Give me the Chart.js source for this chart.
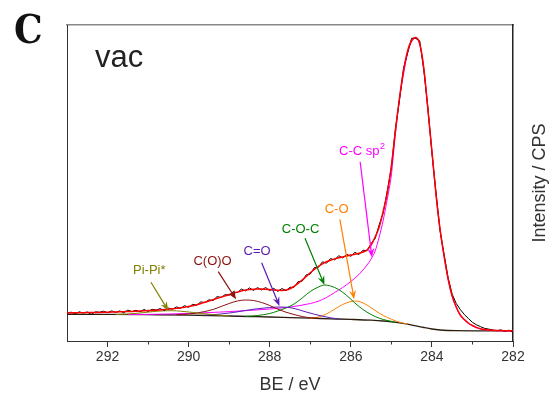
<!DOCTYPE html>
<html>
<head>
<meta charset="utf-8">
<script src="https://cdn.jsdelivr.net/npm/chart.js@4/dist/chart.umd.min.js"></script>
<style>
  html, body { margin: 0; padding: 0; background: #fff; }
  canvas { display: block; }
</style>
</head>
<body>
<canvas id="xps" width="549" height="396"></canvas>
<script>
// binding energy grid of the measured C1s spectrum (eV)
const energy = [
  293.0, 292.9, 292.8, 292.7, 292.6, 292.5, 292.4, 292.3, 292.2, 292.1,
  292.0, 291.9, 291.8, 291.7, 291.6, 291.5, 291.4, 291.3, 291.2, 291.1,
  291.0, 290.9, 290.8, 290.7, 290.6, 290.5, 290.4, 290.3, 290.2, 290.1,
  290.0, 289.9, 289.8, 289.7, 289.6, 289.5, 289.4, 289.3, 289.2, 289.1,
  289.0, 288.9, 288.8, 288.7, 288.6, 288.5, 288.4, 288.3, 288.2, 288.1,
  288.0, 287.9, 287.8, 287.7, 287.6, 287.5, 287.4, 287.3, 287.2, 287.1,
  287.0, 286.9, 286.8, 286.7, 286.6, 286.5, 286.4, 286.3, 286.2, 286.1,
  286.0, 285.9, 285.8, 285.7, 285.6, 285.5, 285.4, 285.3, 285.2, 285.1,
  285.0, 284.9, 284.8, 284.7, 284.6, 284.5, 284.4, 284.3, 284.2, 284.1,
  284.0, 283.9, 283.8, 283.7, 283.6, 283.5, 283.4, 283.3, 283.2, 283.1,
  283.0, 282.9, 282.8, 282.7, 282.6, 282.5, 282.4, 282.3, 282.2, 282.1,
  282.0
];

// measured intensity (arb. units)
const measured = [
  27.4, 28.9, 27.0, 29.2, 28.0, 29.0, 26.6, 29.2, 28.8, 29.8,
  28.3, 30.1, 28.6, 30.1, 28.2, 30.9, 29.4, 30.7, 29.2, 31.5,
  29.7, 31.6, 31.0, 32.4, 30.5, 32.9, 31.8, 34.1, 32.6, 35.3,
  33.7, 36.7, 35.8, 39.1, 38.4, 41.2, 40.4, 44.4, 43.5, 46.4,
  45.8, 49.3, 48.3, 51.9, 50.1, 53.1, 50.6, 53.4, 51.0, 53.5,
  50.4, 52.6, 49.6, 52.5, 50.3, 53.7, 53.7, 59.4, 59.8, 66.1,
  66.9, 73.4, 73.7, 79.2, 77.8, 82.5, 81.0, 85.3, 83.1, 86.6,
  84.7, 88.7, 86.4, 90.8, 90.2, 97.5, 102.4, 116.2, 128.2, 150.4,
  173.5, 212.5, 240.8, 272.8, 288.0, 302.8, 302.5, 300.2, 270.6, 234.0,
  188.2, 149.0, 110.4, 86.9, 63.2, 46.8, 37.5, 31.5, 26.5, 22.5,
  18.6, 16.2, 14.3, 12.6, 11.9, 11.0, 10.3, 11.1, 9.9, 10.8,
  8.8
];

// fit envelope on the same grid
const envelope = [
  28.0, 28.1, 28.2, 28.2, 28.3, 28.4, 28.5, 28.5, 28.6, 28.7,
  28.8, 28.9, 29.0, 29.2, 29.3, 29.5, 29.6, 29.8, 30.0, 30.2,
  30.4, 30.6, 30.8, 31.1, 31.4, 31.8, 32.2, 32.7, 33.2, 33.8,
  34.5, 35.3, 36.3, 37.5, 38.7, 40.0, 41.3, 42.6, 43.9, 45.1,
  46.3, 47.6, 48.9, 50.0, 50.9, 51.5, 51.8, 51.9, 51.9, 51.7,
  51.4, 51.0, 50.7, 50.6, 51.0, 52.3, 54.6, 57.6, 61.0, 64.6,
  68.2, 71.6, 74.6, 77.2, 79.2, 80.8, 82.1, 83.2, 84.1, 85.0,
  85.9, 86.8, 87.8, 89.0, 91.0, 96.0, 104, 114, 130, 148,
  175, 210, 243, 270, 290, 300.5, 303.5, 297, 273, 232,
  190, 147, 112, 85, 62, 45, 34, 26, 21.5, 18,
  15.5, 13.6, 12.3, 11.5, 11.0, 10.7, 10.5, 10.4, 10.3, 10.3,
  10.3
];

// Shirley background
const bgE = [293.0, 292.0, 291.0, 290.0, 289.5, 289.0, 288.5, 288.0, 287.5, 287.0, 286.5, 286.0, 285.5, 285.2, 285.0, 284.8, 284.6, 284.4, 284.2, 284.0, 283.8, 283.6, 283.4, 283.0, 282.0];
const bgI = [26.7, 26.6, 26.3, 25.9, 25.5, 25.0, 24.5, 24.0, 23.4, 22.8, 22.2, 21.6, 20.8, 20.0, 19.2, 18.2, 16.8, 15.2, 13.5, 12.0, 11.0, 10.5, 10.3, 10.2, 10.2];

// fitted components (drawn on top of the background)
const ccE = [291.5, 291.0, 290.5, 290.0, 289.5, 289.0, 288.5, 288.0, 287.5, 287.0,
  286.8, 286.6, 286.4, 286.2, 286.0, 285.8, 285.6, 285.5, 285.4, 285.3,
  285.2, 285.1, 285.0, 284.9, 284.8, 284.7, 284.6, 284.5, 284.4, 284.3,
  284.2, 284.1, 284.0, 283.9, 283.8, 283.7, 283.6, 283.5, 283.4, 283.3,
  283.2, 283.1, 283.0, 282.9, 282.8, 282.7, 282.6, 282.5, 282.4, 282.2, 282.0];
const ccI = [26.4, 26.6, 27.0, 27.6, 28.4, 29.4, 30.6, 32.0, 34.0, 37.5,
  39.8, 43.5, 48.5, 53.5, 59.5, 66.5, 76, 82, 90, 104,
  121, 142, 166, 207, 242, 267, 288, 299.5, 303, 296.5,
  272.5, 231.5, 189.5, 146.5, 111.5, 84.5, 61.5, 44.5, 33.5, 25.5,
  21, 17.5, 15, 13.2, 12, 11.2, 10.8, 10.5, 10.3, 10.2, 10.2];

const coE = [287.0, 286.8, 286.6, 286.4, 286.2, 286.0, 285.9, 285.8, 285.6, 285.4, 285.2, 285.0, 284.8, 284.6];
const coI = [22.8, 24.0, 27.0, 31.8, 36.5, 39.5, 40.0, 39.6, 36.0, 30.5, 25.5, 21.8, 18.8, 16.9];

const cocE = [288.6, 288.3, 288.0, 287.8, 287.6, 287.4, 287.2, 287.0, 286.8, 286.64, 286.5, 286.3, 286.1, 285.9, 285.7, 285.5, 285.3, 285.1, 284.9];
const cocI = [24.6, 25.5, 27.5, 30.0, 33.0, 37.0, 43.0, 49.5, 54.0, 56.0, 55.0, 51.5, 45.5, 38.0, 31.5, 26.5, 22.8, 20.5, 18.8];

const cdoE = [289.6, 289.2, 288.9, 288.6, 288.3, 288.0, 287.75, 287.5, 287.3, 287.1, 286.9, 286.7, 286.5, 286.3];
const cdoI = [25.8, 27.0, 28.5, 30.5, 32.3, 33.5, 34.0, 33.3, 31.5, 29.0, 26.8, 24.8, 23.2, 22.0];

const cooE = [290.3, 290.0, 289.8, 289.6, 289.4, 289.2, 289.0, 288.8, 288.6, 288.4, 288.2, 288.0, 287.8, 287.6, 287.4, 287.2, 287.0, 286.8];
const cooI = [26.3, 27.0, 28.0, 29.5, 31.5, 34.5, 37.5, 40.0, 41.0, 40.5, 38.5, 35.5, 31.8, 28.8, 26.5, 24.5, 23.3, 22.8];

const pipiE = [291.8, 291.5, 291.2, 290.9, 290.6, 290.4, 290.2, 289.9, 289.6, 289.3, 289.0];
const pipiI = [26.5, 27.0, 28.0, 29.3, 30.2, 30.3, 29.8, 28.6, 27.2, 26.0, 25.0];

const xTicks = [282, 284, 286, 288, 290, 292];
const xMinor = [283, 285, 287, 289, 291];

// peak labels: text position and arrow in data coordinates
const notes = [
  { text: 'Pi-Pi*', color: '#808000', at: [290.97, 70.3], from: [290.93, 58.7], to: [290.5, 30.3] },
  { text: 'C(O)O', color: '#8b1010', at: [289.41, 80.0], from: [289.27, 69.3], to: [288.83, 41.7] },
  { text: 'C=O', color: '#5b1ab4', at: [288.31, 89.3], from: [288.2, 78.3], to: [287.76, 35.0] },
  { text: 'C-O-C', color: '#008000', at: [287.24, 112.0], from: [287.13, 102.7], to: [286.65, 56.0] },
  { text: 'C-O', color: '#ff8000', at: [286.35, 132.0], from: [286.27, 121.7], to: [285.92, 41.7] },
  { text: 'C-C sp', sup: '2', color: '#ff00ff', at: [285.73, 189.3], from: [285.77, 179.3], to: [285.48, 83.7] }
];

const FONT = '"Liberation Sans", Arial, sans-serif';

function pts(xs, ys) {
  return xs.map((x, i) => ({ x: x, y: ys[i] }));
}

function line(data, color, width, smooth) {
  return {
    data: data,
    borderColor: color,
    borderWidth: width,
    pointRadius: 0,
    fill: false,
    cubicInterpolationMode: smooth ? 'monotone' : 'default',
    tension: 0
  };
}

function arrow(ctx, x1, y1, x2, y2, color) {
  const a = Math.atan2(y2 - y1, x2 - x1);
  const c = Math.cos(a), s = Math.sin(a);
  ctx.strokeStyle = color;
  ctx.fillStyle = color;
  ctx.lineWidth = 1.2;
  ctx.beginPath();
  ctx.moveTo(x1, y1);
  ctx.lineTo(x2 - 6 * c, y2 - 6 * s);
  ctx.stroke();
  ctx.beginPath();
  ctx.moveTo(x2, y2);
  ctx.lineTo(x2 - 9 * c + 3.5 * s, y2 - 9 * s - 3.5 * c);
  ctx.lineTo(x2 - 6 * c, y2 - 6 * s);
  ctx.lineTo(x2 - 9 * c - 3.5 * s, y2 - 9 * s + 3.5 * c);
  ctx.closePath();
  ctx.fill();
}

const decor = {
  id: 'decor',
  afterDraw(chart) {
    const { ctx, chartArea, scales: { x, y } } = chart;
    ctx.save();

    // minor ticks on the energy axis
    ctx.strokeStyle = '#333';
    ctx.lineWidth = 1;
    xMinor.forEach(v => {
      const px = Math.round(x.getPixelForValue(v)) + 0.5;
      ctx.beginPath();
      ctx.moveTo(px, chartArea.bottom);
      ctx.lineTo(px, chartArea.bottom + 3.5);
      ctx.stroke();
    });

    // labels + arrows
    notes.forEach(n => {
      arrow(ctx, x.getPixelForValue(n.from[0]), y.getPixelForValue(n.from[1]),
        x.getPixelForValue(n.to[0]), y.getPixelForValue(n.to[1]), n.color);
      const tx = x.getPixelForValue(n.at[0]);
      const ty = y.getPixelForValue(n.at[1]);
      ctx.fillStyle = n.color;
      ctx.textBaseline = 'middle';
      ctx.font = '13px ' + FONT;
      if (n.sup) {
        const w1 = ctx.measureText(n.text).width;
        ctx.font = '9px ' + FONT;
        const w2 = ctx.measureText(n.sup).width;
        const left = tx - (w1 + w2) / 2;
        ctx.textAlign = 'left';
        ctx.fillText(n.sup, left + w1 + 0.5, ty - 5);
        ctx.font = '13px ' + FONT;
        ctx.fillText(n.text, left, ty);
      } else {
        ctx.textAlign = 'center';
        ctx.fillText(n.text, tx, ty);
      }
    });

    // sample name
    ctx.fillStyle = '#222';
    ctx.textAlign = 'left';
    ctx.textBaseline = 'alphabetic';
    ctx.font = '31px ' + FONT;
    ctx.fillText('vac', chartArea.left + 28, chartArea.top + 42);

    // panel letter
    ctx.font = 'bold 40px "DejaVu Serif Condensed", "DejaVu Serif", serif';
    ctx.fillStyle = '#111';
    ctx.fillText('C', 14, 43);

    // right axis title, reading bottom to top
    ctx.translate(540, (chartArea.top + chartArea.bottom) / 2 + 0);
    ctx.rotate(-Math.PI / 2);
    ctx.textAlign = 'center';
    ctx.textBaseline = 'middle';
    ctx.font = '18px ' + FONT;
    ctx.fillStyle = '#333';
    ctx.fillText('Intensity / CPS', 0, 0);

    ctx.restore();
  }
};

new Chart(document.getElementById('xps'), {
  type: 'line',
  data: {
    datasets: [
      line(pts(energy, envelope), '#ff0000', 1.5, true),
      line(pts(energy, measured), '#000000', 1, false),
      line(pts(pipiE, pipiI), '#808000', 1, true),
      line(pts(cooE, cooI), '#8b1010', 1, true),
      line(pts(cdoE, cdoI), '#5b1ab4', 1, true),
      line(pts(cocE, cocI), '#008000', 1, true),
      line(pts(coE, coI), '#ff8000', 1, true),
      line(pts(ccE, ccI), '#ff00ff', 1, true),
      line(pts(bgE, bgI), '#2b1d0e', 1.3, true)
    ]
  },
  options: {
    responsive: false,
    animation: false,
    devicePixelRatio: 1,
    layout: { padding: 0 },
    plugins: { legend: { display: false }, tooltip: { enabled: false } },
    scales: {
      x: {
        type: 'linear',
        position: 'bottom',
        reverse: true,
        min: 282,
        max: 293,
        afterBuildTicks: s => { s.ticks = xTicks.map(v => ({ value: v })); },
        afterFit: s => { s.height = 55; },
        ticks: { color: '#333', font: { size: 14, family: FONT }, padding: 2, maxRotation: 0, autoSkip: false },
        grid: { drawOnChartArea: false, drawTicks: true, tickLength: 6, tickColor: '#333' },
        border: { color: '#333', width: 1 },
        title: { display: true, text: 'BE / eV', color: '#333', font: { size: 18, family: FONT }, padding: { top: 4, bottom: 0 } }
      },
      xTop: {
        type: 'linear',
        position: 'top',
        reverse: true,
        min: 282,
        max: 293,
        afterFit: s => { s.height = 25; },
        ticks: { display: false },
        grid: { display: false },
        border: { color: '#888', width: 1.5 }
      },
      y: {
        type: 'linear',
        position: 'left',
        min: 0,
        max: 316,
        afterFit: s => { s.width = 67; },
        ticks: { display: false },
        grid: { display: false },
        border: { color: '#333', width: 1 }
      },
      yRight: {
        type: 'linear',
        position: 'right',
        min: 0,
        max: 316,
        afterFit: s => { s.width = 36; },
        ticks: { display: false },
        grid: { display: false },
        border: { color: '#222', width: 1.5 }
      }
    }
  },
  plugins: [decor]
});
</script>
</body>
</html>
